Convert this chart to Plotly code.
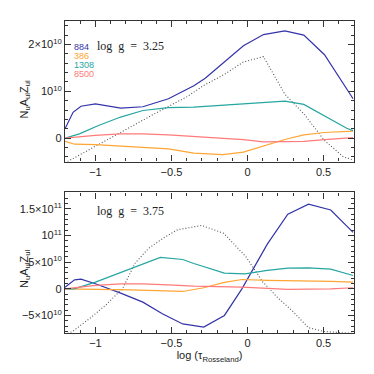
import plotly.graph_objects as go

# log tau grid and values (in units of 1e10)
top_884_x = [-1.2, -1.147, -1.095, -1.0, -0.834, -0.688, -0.52, -0.353, -0.278, -0.027, 0.105, 0.245, 0.37, 0.506, 0.694]
top_884_y = [0.2, 0.55, 0.68, 0.73, 0.64, 0.67, 0.84, 1.12, 1.28, 1.97, 2.21, 2.29, 2.2, 1.78, 0.84]
top_386_x = [-1.2, -1.137, -1.0, -0.688, -0.52, -0.353, -0.163, -0.027, 0.105, 0.245, 0.37, 0.506, 0.694]
top_386_y = [-0.07, -0.13, -0.14, -0.2, -0.23, -0.32, -0.35, -0.3, -0.17, -0.03, 0.07, 0.12, 0.15]
top_1308_x = [-1.2, -1.105, -0.98, -0.834, -0.688, -0.52, -0.353, -0.027, 0.245, 0.37, 0.506, 0.652, 0.694]
top_1308_y = [0.0, 0.09, 0.27, 0.45, 0.59, 0.65, 0.66, 0.73, 0.79, 0.72, 0.48, 0.21, 0.16]
top_8500_x = [-1.2, -1.0, -0.834, -0.688, -0.52, -0.353, -0.027, 0.105, 0.245, 0.37, 0.506, 0.694]
top_8500_y = [0.0, 0.06, 0.09, 0.09, 0.07, 0.04, -0.03, -0.08, -0.08, -0.07, -0.03, 0.01]
top_tot_x = [-1.2, -1.0, -0.8, -0.6, -0.4, -0.29, -0.152, -0.03, 0.105, 0.245, 0.37, 0.506, 0.63, 0.69]
top_tot_y = [-0.53, -0.17, 0.19, 0.54, 0.88, 1.12, 1.36, 1.62, 1.74, 0.94, 0.52, -0.05, -0.4, -0.46]

bot_884_x = [-1.2, -1.168, -1.137, -1.095, -1.0, -0.834, -0.688, -0.56, -0.426, -0.288, -0.152, -0.037, 0.13, 0.265, 0.401, 0.547, 0.694]
bot_884_y = [0.3, 0.94, 1.69, 1.82, 0.94, -0.8, -2.5, -4.7, -6.6, -7.2, -5.0, 0.0, 8.4, 14.0, 15.9, 14.8, 10.6]
bot_386_x = [-1.2, -1.0, -0.77, -0.426, -0.288, -0.152, -0.037, 0.13, 0.265, 0.401, 0.547, 0.694]
bot_386_y = [0.0, -0.06, -0.19, -0.5, 0.2, 1.2, 1.75, 1.6, 1.57, 1.55, 1.38, 1.26]
bot_1308_x = [-1.2, -1.14, -1.0, -0.834, -0.688, -0.573, -0.426, -0.353, -0.152, -0.017, 0.13, 0.265, 0.401, 0.547, 0.694]
bot_1308_y = [0.0, 0.0, 1.26, 3.1, 4.75, 5.9, 5.5, 4.75, 2.95, 2.8, 3.45, 3.9, 3.95, 3.7, 2.5]
bot_8500_x = [-1.2, -1.0, -0.834, -0.688, -0.52, -0.353, -0.037, 0.265, 0.547, 0.694]
bot_8500_y = [0.0, 0.63, 0.94, 0.94, 0.75, 0.5, 0.32, -0.12, 0.0, 0.2]
bot_tot_x = [-1.2, -1.15, -1.03, -0.93, -0.82, -0.74, -0.65, -0.55, -0.46, -0.35, -0.3, -0.155, -0.01, 0.1, 0.2, 0.3, 0.4, 0.5, 0.6, 0.7]
bot_tot_y = [-8.6, -8.0, -5.4, -3.0, 0.1, 4.8, 7.6, 9.6, 11.1, 11.7, 11.9, 10.4, 6.0, 1.3, -1.7, -4.3, -7.3, -8.0, -8.2, -8.4]

labels = ["884", "386", "1308", "8500"]
colors = ["#3333aa", "#ffa533", "#26a6a0", "#ff7a7a"]

x_ticks = [-1, -0.5, 0, 0.5]
x_ticktext = ["\u22121", "\u22120.5", "0", "0.5"]
top_ticks = [0, 1e10, 2e10]
top_ticktext = ["0", "10<sup>10</sup>", "2\u00d710<sup>10</sup>"]
bot_ticks = [-5e10, 0, 5e10, 1e11, 1.5e11]
bot_ticktext = ["\u22125\u00d710<sup>10</sup>", "0", "5\u00d710<sup>10</sup>", "10<sup>11</sup>", "1.5\u00d710<sup>11</sup>"]

FONT = "Liberation Sans"
INK = "#222222"

fig = go.Figure()

top_sets = [(top_884_x, top_884_y), (top_386_x, top_386_y), (top_1308_x, top_1308_y), (top_8500_x, top_8500_y)]
bot_sets = [(bot_884_x, bot_884_y), (bot_386_x, bot_386_y), (bot_1308_x, bot_1308_y), (bot_8500_x, bot_8500_y)]

fig.add_trace(go.Scatter(x=top_tot_x, y=[v * 1e10 for v in top_tot_y], mode="lines",
                         line=dict(color="#555555", width=1.1, dash="1px,2px"), xaxis="x", yaxis="y"))
for (xs, ys), c in zip(top_sets, colors):
    fig.add_trace(go.Scatter(x=xs, y=[v * 1e10 for v in ys], mode="lines",
                             line=dict(color=c, width=1.2), xaxis="x", yaxis="y"))

fig.add_trace(go.Scatter(x=bot_tot_x, y=[v * 1e10 for v in bot_tot_y], mode="lines",
                         line=dict(color="#555555", width=1.1, dash="1px,2px"), xaxis="x2", yaxis="y2"))
for (xs, ys), c in zip(bot_sets, colors):
    fig.add_trace(go.Scatter(x=xs, y=[v * 1e10 for v in ys], mode="lines",
                             line=dict(color=c, width=1.2), xaxis="x2", yaxis="y2"))

axis_common = dict(showgrid=False, zeroline=False, showline=True, linecolor="#333333", linewidth=1.2,
                   mirror="allticks", ticks="inside", ticklen=6, tickcolor="#333333", tickwidth=1,
                   tickfont=dict(family=FONT, size=11, color=INK))

xaxis_common = dict(axis_common, range=[-1.2, 0.7], tickvals=x_ticks, ticktext=x_ticktext,
                    minor=dict(dtick=0.1, tick0=0, ticks="inside", ticklen=3, tickcolor="#333333"))

# page has an 8px body margin, so the figure is 366 wide/high
fig.update_layout(
    width=366, height=366,
    margin=dict(l=44, r=20, t=12, b=41),
    paper_bgcolor="white", plot_bgcolor="white",
    showlegend=False,
    xaxis=dict(xaxis_common, domain=[0, 1], anchor="y"),
    yaxis=dict(axis_common, domain=[0.5495, 1], anchor="x", range=[-0.5e10, 2.5e10],
               tickvals=top_ticks, ticktext=top_ticktext,
               minor=dict(dtick=2e9, tick0=0, ticks="inside", ticklen=3, tickcolor="#333333")),
    xaxis2=dict(xaxis_common, domain=[0, 1], anchor="y2",
                title=dict(text="log (\u03c4<sub>Rosseland</sub>)", font=dict(family=FONT, size=11, color=INK),
                           standoff=2)),
    yaxis2=dict(axis_common, domain=[0, 0.4505], anchor="x2", range=[-8.3e10, 1.81e11],
                tickvals=bot_ticks, ticktext=bot_ticktext,
                minor=dict(dtick=1e10, tick0=0, ticks="inside", ticklen=3, tickcolor="#333333")),
)

ylabel = "N<sub>u</sub>A<sub>ul</sub>Z<sub>ul</sub>"
annotations = [
    dict(x=-42 / 302, y=(313 - 78) / 313, xref="paper", yref="paper", text=ylabel, showarrow=False,
         xanchor="center", yanchor="middle", textangle=-90, font=dict(family=FONT, size=11, color=INK)),
    dict(x=-42 / 302, y=(313 - 248) / 313, xref="paper", yref="paper", text=ylabel, showarrow=False,
         xanchor="center", yanchor="middle", textangle=-90, font=dict(family=FONT, size=11, color=INK)),
    dict(x=31 / 302, y=(313 - 16) / 313, xref="paper", yref="paper", text="log  g  =  3.25",
         showarrow=False, xanchor="left", font=dict(family="Liberation Serif", size=12, color=INK)),
    dict(x=31 / 302, y=(313 - 191) / 313, xref="paper", yref="paper", text="log  g  =  3.75",
         showarrow=False, xanchor="left", font=dict(family="Liberation Serif", size=12, color=INK)),
]
for i, (lab, c) in enumerate(zip(labels, colors)):
    annotations.append(dict(x=8 / 302, y=(313 - (26 + i * 9)) / 313, xref="paper", yref="paper",
                            text=lab, showarrow=False, xanchor="left", yanchor="middle", borderpad=0,
                            font=dict(family=FONT, size=9, color=c)))
fig.update_layout(annotations=annotations)

fig.write_html("out.html")
